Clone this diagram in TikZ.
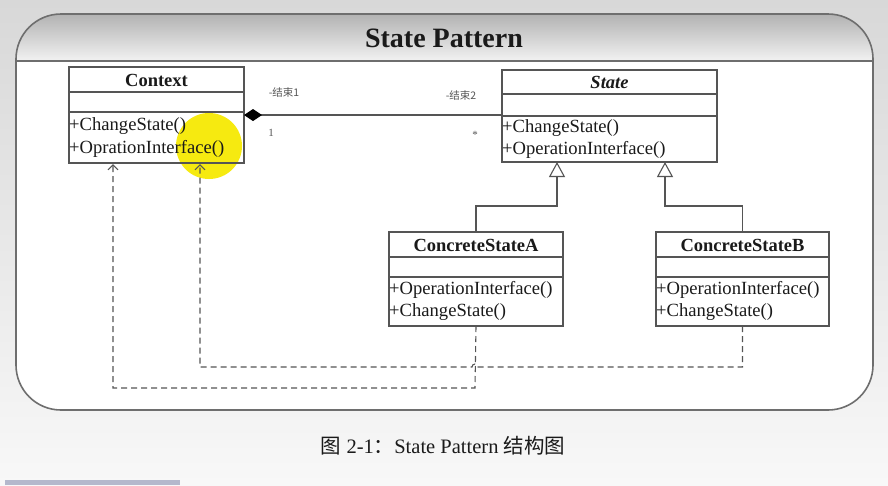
\documentclass[tikz,border=0pt]{standalone}
\usepackage{fontspec}
\setmainfont{Liberation Serif}
\newfontfamily\cjk{Noto Sans CJK SC}
\usetikzlibrary{arrows.meta}
\definecolor{bgtop}{HTML}{D8D8D8}
\definecolor{bgbot}{HTML}{F8F8F8}
\definecolor{hdrtop}{HTML}{B2B2B2}
\definecolor{hdrbot}{HTML}{F2F2F2}
\definecolor{panelgray}{HTML}{6E6E6E}
\definecolor{boxgray}{HTML}{555555}
\definecolor{txt}{HTML}{1A1A1A}
\definecolor{lbl}{HTML}{555555}
\definecolor{hilite}{HTML}{F6EA10}
\definecolor{barcol}{HTML}{B4B8CC}
\tikzset{
  classbox/.style={draw=boxgray, line width=1.1pt, fill=white, anchor=north west, inner sep=0, outer sep=0},
  sepline/.style={draw=boxgray, line width=1.1pt},
  ctitle/.style={font=\fontsize{18.5}{19}\selectfont\bfseries, text=txt, inner sep=0},
  meth/.style={font=\fontsize{18.6}{19}\selectfont, text=txt, anchor=west, inner sep=0},
  endlbl/.style={font=\cjk\fontsize{10.5}{11}\selectfont, text=lbl, inner sep=0},
  mult/.style={font=\fontsize{11}{11}\selectfont, text=lbl, inner sep=0},
  conn/.style={draw=boxgray, line width=1.1pt},
  gen/.style={conn, -{Triangle[open, length=15pt, width=16pt, fill=white]}},
  dep/.style={draw=boxgray, line width=1.1pt, dash pattern=on 6pt off 4pt, -{Straight Barb[length=5pt, width=10pt]}},
}
\begin{document}
\begin{tikzpicture}[x=1pt, y=-1pt]
\useasboundingbox (0,0) rectangle (888,485);
% screenshot background
\fill[top color=bgtop, bottom color=bgbot] (0,0) rectangle (888,485);
\fill[barcol] (5,480) rectangle (180,485);
% panel
\fill[white, rounded corners=45pt] (16,14) rectangle (873,410);
\begin{scope}
  \clip[rounded corners=45pt] (16,14) rectangle (873,410);
  \fill[top color=hdrtop, bottom color=hdrbot] (16,14) rectangle (873,61);
\end{scope}
\draw[panelgray, line width=1.6pt, rounded corners=45pt] (16,14) rectangle (873,410);
\draw[panelgray, line width=1.4pt] (16,61) -- (873,61);
\node[font=\fontsize{28}{28}\selectfont\bfseries, text=txt] (title) at (444,38) {State Pattern};

% highlight under Context text
\fill[hilite] (209,146) circle (33pt);

% Context
\node[classbox, fill=none, minimum width=175pt, minimum height=96pt] (ctx) at (69,67) {};
\draw[sepline] (69,92) -- (244,92);
\draw[sepline] (69,112) -- (244,112);
\node[ctitle] (ctxT) at (156.5,80) {Context};
\node[meth] (ctxM1) at (69,126) {+ChangeState()};
\node[meth] (ctxM2) at (69,149) {+OprationInterface()};

% State
\node[classbox, minimum width=215pt, minimum height=92pt] (st) at (502,70) {};
\draw[sepline] (502,94) -- (717,94);
\draw[sepline] (502,116) -- (717,116);
\node[ctitle, font=\fontsize{18.5}{19}\selectfont\bfseries\itshape] (stT) at (609.5,82) {State};
\node[meth] (stM1) at (502,128) {+ChangeState()};
\node[meth] (stM2) at (502,150) {+OperationInterface()};

% ConcreteStateA
\node[classbox, minimum width=174pt, minimum height=94pt] (ca) at (389,232) {};
\draw[sepline] (389,257) -- (563,257);
\draw[sepline] (389,277) -- (563,277);
\node[ctitle] (caT) at (476,245) {ConcreteStateA};
\node[meth] (caM1) at (389,290) {+OperationInterface()};
\node[meth] (caM2) at (389,312) {+ChangeState()};

% ConcreteStateB
\node[classbox, minimum width=173pt, minimum height=94pt] (cb) at (656,232) {};
\draw[sepline] (656,257) -- (829,257);
\draw[sepline] (656,277) -- (829,277);
\node[ctitle] (cbT) at (742.5,245) {ConcreteStateB};
\node[meth] (cbM1) at (656,290) {+OperationInterface()};
\node[meth] (cbM2) at (656,312) {+ChangeState()};

% association (composition)
\draw[conn, {Diamond[length=18pt, width=12pt, fill=black, color=black]}-] (ctx.east) -- (st.west |- ctx.east);
\node[endlbl] (e1) at (284,93) {-结束1};
\node[endlbl] (e2) at (461,96) {-结束2};
\node[mult] (m1) at (271,133) {1};
\node[mult] (m2) at (475,135) {*};

% generalizations
\coordinate (g1) at (557,162);
\coordinate (g2) at (665,162);
\draw[gen] (ca.north) |- (557,206) -- (g1);
\draw[gen] (cb.north) |- (665,206) -- (g2);

% dependencies
\coordinate (d1) at (113,164);
\coordinate (d2) at (200,164);
\draw[dep] (ca.south) -- (475,388) -| (d1);
\draw[dep] (cb.south) |- (478,367) arc[start angle=0, end angle=180, radius=3pt] -| (d2);

% caption
\node[font=\fontsize{20.5}{21}\selectfont, text=txt] (cap) at (443,446) {{\cjk 图} 2-1{\cjk ：}State Pattern {\cjk 结构图}};
\end{tikzpicture}
\end{document}
